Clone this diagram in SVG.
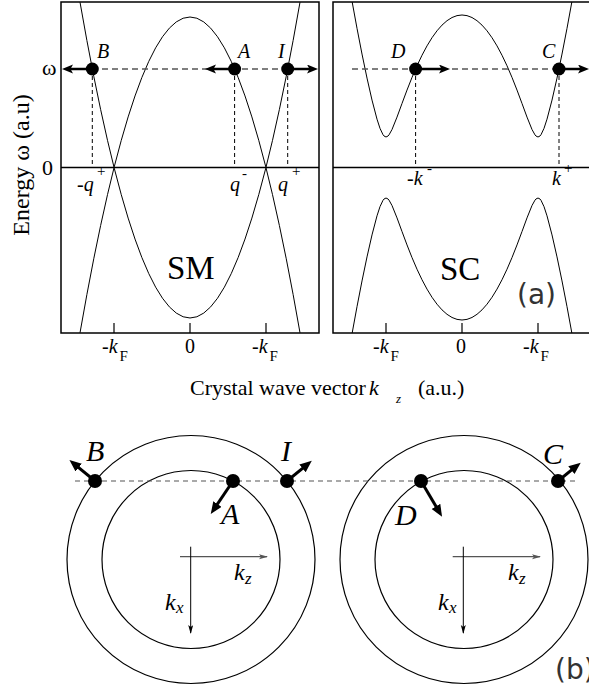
<svg xmlns="http://www.w3.org/2000/svg" width="589" height="694" viewBox="0 0 589 694">
<style>
text{font-family:"Liberation Serif","Times New Roman",serif;fill:#000}
.it{font-style:italic}
.frame{fill:none;stroke:#000;stroke-width:1.5}
.curve{fill:none;stroke:#000;stroke-width:1;stroke-linejoin:round}
.hdash{fill:none;stroke:#555;stroke-width:1.5;stroke-dasharray:6 4}
.vdash{fill:none;stroke:#000;stroke-width:1;stroke-dasharray:4 3}
.arr{fill:none;stroke:#000;stroke-width:2.5;marker-end:url(#head)}
.barr{fill:none;stroke:#000;stroke-width:3;marker-end:url(#bhead)}
.ring{fill:none;stroke:#000;stroke-width:1.2}
.dot{fill:#000}
.tick{stroke:#000;stroke-width:1.2}
.sans{font-family:"DejaVu Sans","Liberation Sans",sans-serif;fill:#333}
.axh{stroke:#555;stroke-width:1.2;marker-end:url(#sgray)}
.axv{stroke:#000;stroke-width:1;marker-end:url(#sblack)}
</style>
<defs>
<marker id="head" markerUnits="userSpaceOnUse" markerWidth="13" markerHeight="10" refX="4" refY="4.5" orient="auto"><path d="M0,0 L11,4.5 L0,9 L2.5,4.5 z" fill="#000"/></marker>
<marker id="bhead" markerUnits="userSpaceOnUse" markerWidth="14" markerHeight="12" refX="4" refY="5" orient="auto"><path d="M0,0 L12,5 L0,10 z" fill="#000"/></marker>
<marker id="sgray" markerUnits="userSpaceOnUse" markerWidth="10" markerHeight="8" refX="8" refY="2.5" orient="auto"><path d="M0,0 L9,2.5 L0,5 L2,2.5 z" fill="#555"/></marker>
<marker id="sblack" markerUnits="userSpaceOnUse" markerWidth="10" markerHeight="8" refX="8" refY="2.5" orient="auto"><path d="M0,0 L9,2.5 L0,5 L2,2.5 z" fill="#000"/></marker>
<clipPath id="clipL"><rect x="61" y="2" width="258" height="331"/></clipPath>
<clipPath id="clipR"><rect x="333" y="2" width="260" height="331"/></clipPath>
</defs>

<!-- Panel (a) left: SM -->
<g id="panel-sm">
<rect class="frame" x="61" y="2" width="258" height="331"/>
<line class="frame" x1="61" y1="167.5" x2="319" y2="167.5"/>
<g clip-path="url(#clipL)">
<path class="curve" d="M80,2.2 Q190,633.8 300,2.2"/>
<path class="curve" d="M80,332.8 Q190,-298.8 300,332.8"/>
</g>
<line class="tick" x1="114" y1="333" x2="114" y2="323"/>
<line class="tick" x1="190" y1="333" x2="190" y2="323"/>
<line class="tick" x1="266" y1="333" x2="266" y2="323"/>
<text x="102" y="353" font-size="20">-<tspan class="it">k</tspan><tspan font-size="15" dx="2" dy="8">F</tspan></text>
<text x="190" y="353" font-size="20" text-anchor="middle">0</text>
<text x="252" y="353" font-size="20">-<tspan class="it">k</tspan><tspan font-size="15" dx="2" dy="8">F</tspan></text>
<text x="167" y="279" font-size="33">SM</text>
</g>

<!-- Panel (a) right: SC -->
<g id="panel-sc">
<rect class="frame" x="333" y="2" width="260" height="331"/>
<line class="frame" x1="333" y1="167.5" x2="589" y2="167.5"/>
<g clip-path="url(#clipR)">
<polyline class="curve" points="352,1.08 357,28.33 362,54.05 367,78.08 372,100.08 377,119.17 380,128.36 383,134.71 384,135.98 386,137 388,136.03 389,134.88 392,129.5 397,117.1 402,103.48 407,90.07 412,77.43 417,65.78 422,55.25 427,45.88 432,37.73 437,30.8 442,25.12 447,20.69 452,17.53 457,15.63 462,14.99 467,15.63 472,17.53 477,20.69 482,25.12 487,30.8 492,37.73 497,45.88 502,55.25 507,65.78 512,77.43 517,90.07 522,103.48 527,117.1 532,129.5 535,134.88 536,136.03 538,137 540,135.98 541,134.71 544,128.36 547,119.17 552,100.08 557,78.08 562,54.05 567,28.33 572,1.08"/>
<polyline class="curve" points="352,333.92 357,306.67 362,280.95 367,256.92 372,234.92 377,215.83 380,206.64 383,200.29 384,199.02 386,198 388,198.97 389,200.12 392,205.5 397,217.9 402,231.52 407,244.93 412,257.57 417,269.22 422,279.75 427,289.12 432,297.27 437,304.2 442,309.88 447,314.31 452,317.47 457,319.37 462,320.01 467,319.37 472,317.47 477,314.31 482,309.88 487,304.2 492,297.27 497,289.12 502,279.75 507,269.22 512,257.57 517,244.93 522,231.52 527,217.9 532,205.5 535,200.12 536,198.97 538,198 540,199.02 541,200.29 544,206.64 547,215.83 552,234.92 557,256.92 562,280.95 567,306.67 572,333.92"/>
</g>
<line class="tick" x1="386" y1="333" x2="386" y2="323"/>
<line class="tick" x1="462" y1="333" x2="462" y2="323"/>
<line class="tick" x1="538" y1="333" x2="538" y2="323"/>
<text x="373" y="353" font-size="20">-<tspan class="it">k</tspan><tspan font-size="15" dx="2" dy="8">F</tspan></text>
<text x="461" y="353" font-size="20" text-anchor="middle">0</text>
<text x="523" y="353" font-size="20">-<tspan class="it">k</tspan><tspan font-size="15" dx="2" dy="8">F</tspan></text>
<text x="440" y="280" font-size="33">SC</text>
<text class="sans" x="517" y="304" font-size="28">(a)</text>
</g>

<!-- Axis labels -->
<g id="axis-labels">
<text x="42" y="75" font-size="22">ω</text>
<text x="42" y="175" font-size="22">0</text>
<text transform="translate(29,165) rotate(-90)" font-size="24" text-anchor="middle">Energy ω  (a.u)</text>
<text x="190" y="395" font-size="22">Crystal wave vector</text>
<text x="369" y="395" font-size="22" class="it">k</text>
<text x="396" y="403" font-size="13" class="it">z</text>
<text x="418" y="395" font-size="22">(a.u.)</text>
</g>

<!-- Connectors (top) -->
<g id="connectors-top">
<line class="hdash" x1="92" y1="69" x2="288" y2="69"/>
<line class="hdash" x1="352" y1="69" x2="559" y2="69"/>
<line class="vdash" x1="92.3" y1="69" x2="92.3" y2="167.5"/>
<line class="vdash" x1="234.6" y1="69" x2="234.6" y2="167.5"/>
<line class="vdash" x1="287.7" y1="69" x2="287.7" y2="167.5"/>
<line class="vdash" x1="415.6" y1="69" x2="415.6" y2="167.5"/>
<line class="vdash" x1="559" y1="69" x2="559" y2="167.5"/>
<line class="arr" x1="92" y1="69" x2="69" y2="69"/>
<line class="arr" x1="235" y1="69" x2="212" y2="69"/>
<line class="arr" x1="288" y1="69" x2="311" y2="69"/>
<line class="arr" x1="416" y1="69" x2="443" y2="69"/>
<line class="arr" x1="559" y1="69" x2="582" y2="69"/>
</g>

<!-- Top nodes -->
<g id="node-B-top"><circle class="dot" cx="92.3" cy="69" r="6.5"/><text class="it" x="97" y="58" font-size="20">B</text></g>
<g id="node-A-top"><circle class="dot" cx="234.6" cy="69" r="6.5"/><text class="it" x="238" y="58" font-size="20">A</text></g>
<g id="node-I-top"><circle class="dot" cx="287.7" cy="69" r="6.5"/><text class="it" x="278" y="58" font-size="20">I</text></g>
<g id="node-D-top"><circle class="dot" cx="415.6" cy="69" r="6.5"/><text class="it" x="391" y="58" font-size="20">D</text></g>
<g id="node-C-top"><circle class="dot" cx="559" cy="69" r="6.5"/><text class="it" x="542" y="58" font-size="20">C</text></g>

<g id="momentum-labels">
<text x="77" y="191" font-size="20">-<tspan class="it">q</tspan></text>
<text x="97" y="176" font-size="15">+</text>
<text x="230" y="191" font-size="20" class="it">q</text>
<text x="242" y="178" font-size="15">-</text>
<text x="278" y="191" font-size="20" class="it">q</text>
<text x="292" y="176" font-size="15">+</text>
<text x="407" y="185" font-size="20">-<tspan class="it">k</tspan></text>
<text x="427" y="173" font-size="15">-</text>
<text x="552" y="185" font-size="20" class="it">k</text>
<text x="564" y="173" font-size="15">+</text>
</g>

<!-- Panel (b) -->
<g id="circles-left">
<circle class="ring" cx="191" cy="559.5" r="124"/>
<circle class="ring" cx="191" cy="559.5" r="89"/>
<line class="axh" x1="180" y1="556.7" x2="267" y2="556.7"/>
<line class="axv" x1="190.7" y1="546.7" x2="190.7" y2="633"/>
<text class="it" x="234" y="580" font-size="24">k</text><text class="it" x="245" y="584" font-size="17">z</text>
<text class="it" x="165" y="610" font-size="24">k</text><text class="it" x="176" y="613" font-size="17">x</text>
</g>
<g id="circles-right">
<circle class="ring" cx="464" cy="559.5" r="124"/>
<circle class="ring" cx="464" cy="559.5" r="89"/>
<line class="axh" x1="452.7" y1="556.7" x2="540" y2="556.7"/>
<line class="axv" x1="463.3" y1="546.7" x2="463.3" y2="633"/>
<text class="it" x="508" y="580" font-size="24">k</text><text class="it" x="519" y="584" font-size="17">z</text>
<text class="it" x="438" y="610" font-size="24">k</text><text class="it" x="449" y="613" font-size="17">x</text>
<text class="sans" x="555" y="679" font-size="28">(b)</text>
</g>

<g id="connectors-bottom">
<line class="hdash" x1="75" y1="481" x2="577" y2="481" style="stroke-width:1.2;stroke-dasharray:5 4"/>
<line class="barr" x1="95" y1="481" x2="75.6" y2="465.1"/>
<line class="barr" x1="287" y1="481" x2="305.6" y2="465.8"/>
<line class="barr" x1="233" y1="481" x2="215.2" y2="507.4"/>
<line class="barr" x1="421" y1="481" x2="438" y2="509.8"/>
<line class="barr" x1="558" y1="481" x2="574.5" y2="467.7"/>
</g>

<g id="node-B"><circle class="dot" cx="95" cy="481" r="7"/><text class="it" x="86" y="461" font-size="30">B</text></g>
<g id="node-A"><circle class="dot" cx="233" cy="481" r="7"/><text class="it" x="221" y="524" font-size="30">A</text></g>
<g id="node-I"><circle class="dot" cx="287" cy="481" r="7"/><text class="it" x="281" y="461" font-size="30">I</text></g>
<g id="node-D"><circle class="dot" cx="421" cy="481" r="7"/><text class="it" x="395" y="525" font-size="30">D</text></g>
<g id="node-C"><circle class="dot" cx="558" cy="481" r="7"/><text class="it" x="543" y="464" font-size="30">C</text></g>
</svg>
